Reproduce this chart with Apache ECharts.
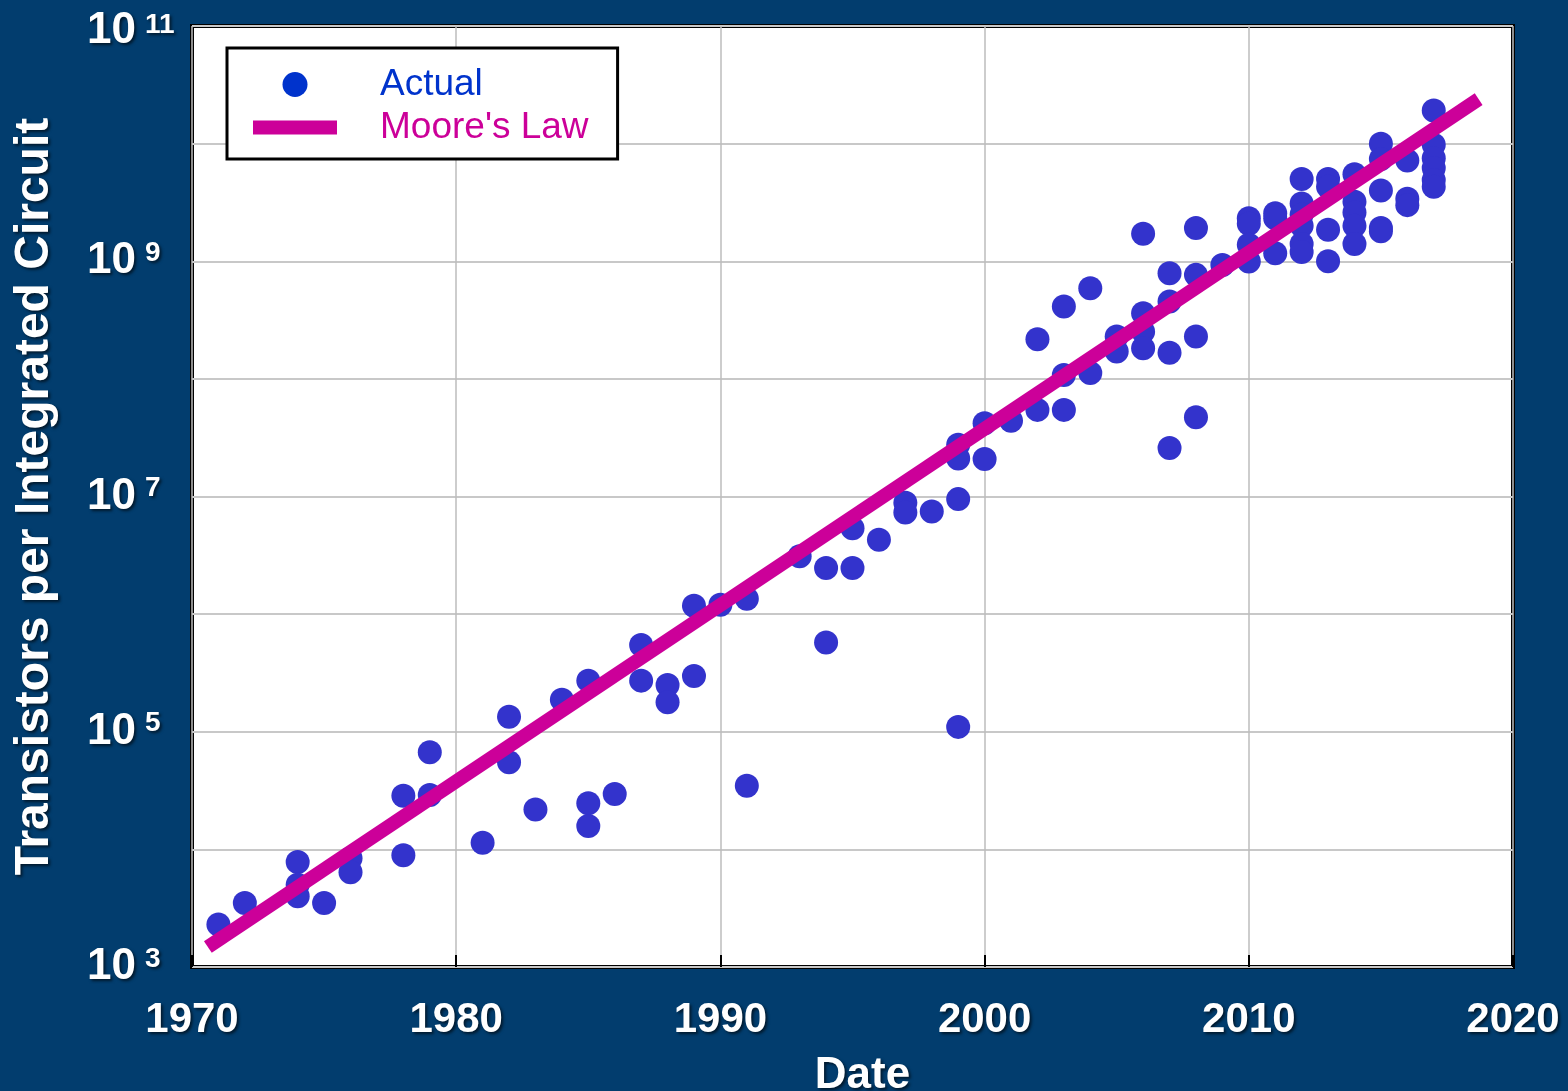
<!DOCTYPE html>
<html>
<head>
<meta charset="utf-8">
<style>
html,body{margin:0;padding:0;background:#023d6e;overflow:hidden;}
#chart{width:1568px;height:1091px;}
</style>
<script src="https://cdn.jsdelivr.net/npm/echarts@6/dist/echarts.min.js"></script>
</head>
<body>
<div id="chart"></div>
<script>
// ---- Data ----
const actualYears = [
  1971, 1972, 1974, 1974, 1974, 1975, 1976, 1976, 1978, 1978, 1979, 1979,
  1981, 1982, 1982, 1983, 1984, 1985, 1985, 1985, 1986, 1987, 1987, 1988, 1988,
  1989, 1989, 1990, 1991, 1991, 1993, 1994, 1994, 1995, 1995, 1996, 1997, 1997,
  1998, 1999, 1999, 1999, 1999, 2000, 2000, 2001, 2002, 2002, 2003, 2003, 2003,
  2004, 2004, 2005, 2005, 2006, 2006, 2006, 2006, 2007, 2007, 2007, 2007,
  2008, 2008, 2008, 2008, 2009, 2010, 2010, 2010, 2010, 2011, 2011, 2011,
  2012, 2012, 2012, 2012, 2012, 2012, 2013, 2013, 2013, 2013,
  2014, 2014, 2014, 2014, 2014, 2015, 2015, 2015, 2015, 2015,
  2016, 2016, 2016, 2017, 2017, 2017, 2017, 2017, 2017
];
const actualValues = [
  2.3e3, 3.5e3, 7.8e3, 5.0e3, 4.0e3, 3.5e3, 8.4e3, 6.4e3, 2.86e4, 8.9e3, 6.7e4, 2.9e4,
  1.14e4, 1.34e5, 5.5e4, 2.18e4, 1.87e5, 2.72e5, 2.47e4, 1.58e4, 2.96e4, 5.47e5, 2.72e5, 2.5e5, 1.78e5,
  1.18e6, 2.98e5, 1.2e6, 1.35e6, 3.48e4, 3.1e6, 2.47e6, 5.73e5, 5.37e6, 2.47e6, 4.28e6, 8.87e6, 7.3e6,
  7.45e6, 2.75e7, 2.1e7, 9.5e6, 1.1e5, 4.2e7, 2.08e7, 4.4e7, 2.17e8, 5.45e7, 4.12e8, 1.08e8, 5.45e7,
  5.9e8, 1.12e8, 2.29e8, 1.71e8, 1.71e9, 3.61e8, 2.52e8, 1.82e8, 7.92e8, 4.54e8, 1.67e8, 2.58e7,
  1.92e9, 7.66e8, 2.29e8, 4.72e7, 9.31e8, 2.32e9, 2.08e9, 1.38e9, 9.93e8, 2.56e9, 2.32e9, 1.17e9,
  5.0e9, 3.1e9, 2.5e9, 2.0e9, 1.4e9, 1.2e9, 5.0e9, 4.3e9, 1.85e9, 1.0e9,
  5.5e9, 3.2e9, 2.6e9, 2.0e9, 1.4e9, 1.0e10, 7.4e9, 4.0e9, 1.92e9, 1.8e9,
  7.2e9, 3.4e9, 3.0e9, 1.91e10, 9.8e9, 7.5e9, 6.2e9, 4.9e9, 4.3e9
];
const mooreYears = [1970.6, 2018.7];
const mooreValues = [1.48e3, 2.39e10];
const xTicks = [1970, 1980, 1990, 2000, 2010, 2020];
const seriesNames = ['Actual', "Moore's Law"];
const axisTitles = { x: 'Date', y: 'Transistors per Integrated Circuit' };

// ---- Build ----
const actualData = actualYears.map((y, i) => [y, actualValues[i]]);
const mooreData = mooreYears.map((y, i) => [y, mooreValues[i]]);

const shadow = {
  textShadowColor: 'rgba(0,0,0,0.6)',
  textShadowBlur: 3,
  textShadowOffsetX: 2,
  textShadowOffsetY: 2
};
const FONT = '"Liberation Sans", Arial, Helvetica, sans-serif';
const labelBase = Object.assign({ color: '#fff', fontFamily: FONT, fontWeight: 'bold' }, shadow);

const el = document.getElementById('chart');
const chart = echarts.init(el, null, { renderer: 'canvas' });
chart.setOption({
  backgroundColor: '#023d6e',
  animation: false,
  grid: {
    left: 192, right: 55, top: 26, bottom: 124,
    show: true, backgroundColor: '#ffffff', borderColor: '#000000', borderWidth: 4,
    containLabel: false,
    outerBoundsMode: 'none'
  },
  legend: {
    orient: 'vertical',
    left: 227, top: 48,
    padding: [18, 29, 13, 26],
    itemWidth: 84, itemHeight: 25, itemGap: 6,
    backgroundColor: '#ffffff', borderColor: '#000000', borderWidth: 3, borderRadius: 0,
    textStyle: { fontFamily: FONT, fontSize: 37, lineHeight: 37, padding: [0, 0, 0, 38] },
    data: [
      { name: seriesNames[0], icon: 'circle', itemStyle: { color: '#0033cc' }, textStyle: { color: '#0033cc' } },
      { name: seriesNames[1], icon: 'path://M0,0 L84,0 L84,14 L0,14 Z', itemStyle: { color: '#cc0099', borderWidth: 0 }, lineStyle: { width: 0 }, textStyle: { color: '#cc0099' } }
    ],
    selectedMode: false
  },
  xAxis: {
    type: 'value', min: xTicks[0], max: xTicks[xTicks.length - 1], interval: 10,
    name: axisTitles.x, nameLocation: 'middle', nameGap: 87,
    nameTextStyle: Object.assign({}, labelBase, { fontSize: 44, padding: [0, 0, 0, 20] }),
    axisLine: { show: false },
    axisTick: { show: true, inside: true, length: 12, lineStyle: { color: '#000', width: 2 } },
    splitLine: { show: true, lineStyle: { color: '#bdbdbd', width: 1.5 } },
    axisLabel: Object.assign({}, labelBase, { fontSize: 42, margin: 32, formatter: v => String(v) })
  },
  yAxis: {
    type: 'log', logBase: 10, min: 1e3, max: 1e11, interval: 1,
    name: axisTitles.y, nameLocation: 'middle', nameGap: 133,
    nameTextStyle: Object.assign({}, labelBase, { fontSize: 48 }),
    axisLine: { show: false },
    axisTick: { show: false },
    splitLine: { show: true, lineStyle: { color: '#c8c8c8', width: 2 } },
    axisLabel: {
      align: 'left', margin: 105,
      formatter: v => {
        const e = Math.round(Math.log10(v));
        if (e % 2 !== 1) return '';
        return e >= 11 ? '{bt|10}{st|' + e + '}' : '{b|10}{s|' + e + '}';
      },
      rich: {
        b: Object.assign({}, labelBase, { fontSize: 44, lineHeight: 44 }),
        s: Object.assign({}, labelBase, { fontSize: 28, lineHeight: 28, verticalAlign: 'top', padding: [0, 0, 0, 9] }),
        bt: Object.assign({}, labelBase, { fontSize: 44, lineHeight: 44, padding: [10, 0, 0, 0] }),
        st: Object.assign({}, labelBase, { fontSize: 28, lineHeight: 28, verticalAlign: 'top', padding: [7, 0, 0, 9] })
      }
    }
  },
  series: [
    {
      name: seriesNames[0], type: 'scatter', data: actualData,
      symbol: 'circle', symbolSize: 24,
      itemStyle: { color: '#3333cc', opacity: 1 },
      z: 2
    },
    {
      name: seriesNames[1], type: 'line', data: mooreData,
      symbol: 'none', lineStyle: { color: '#cc0099', width: 14, cap: 'butt' },
      itemStyle: { color: '#cc0099' },
      z: 3
    }
  ]
});
</script>
</body>
</html>
